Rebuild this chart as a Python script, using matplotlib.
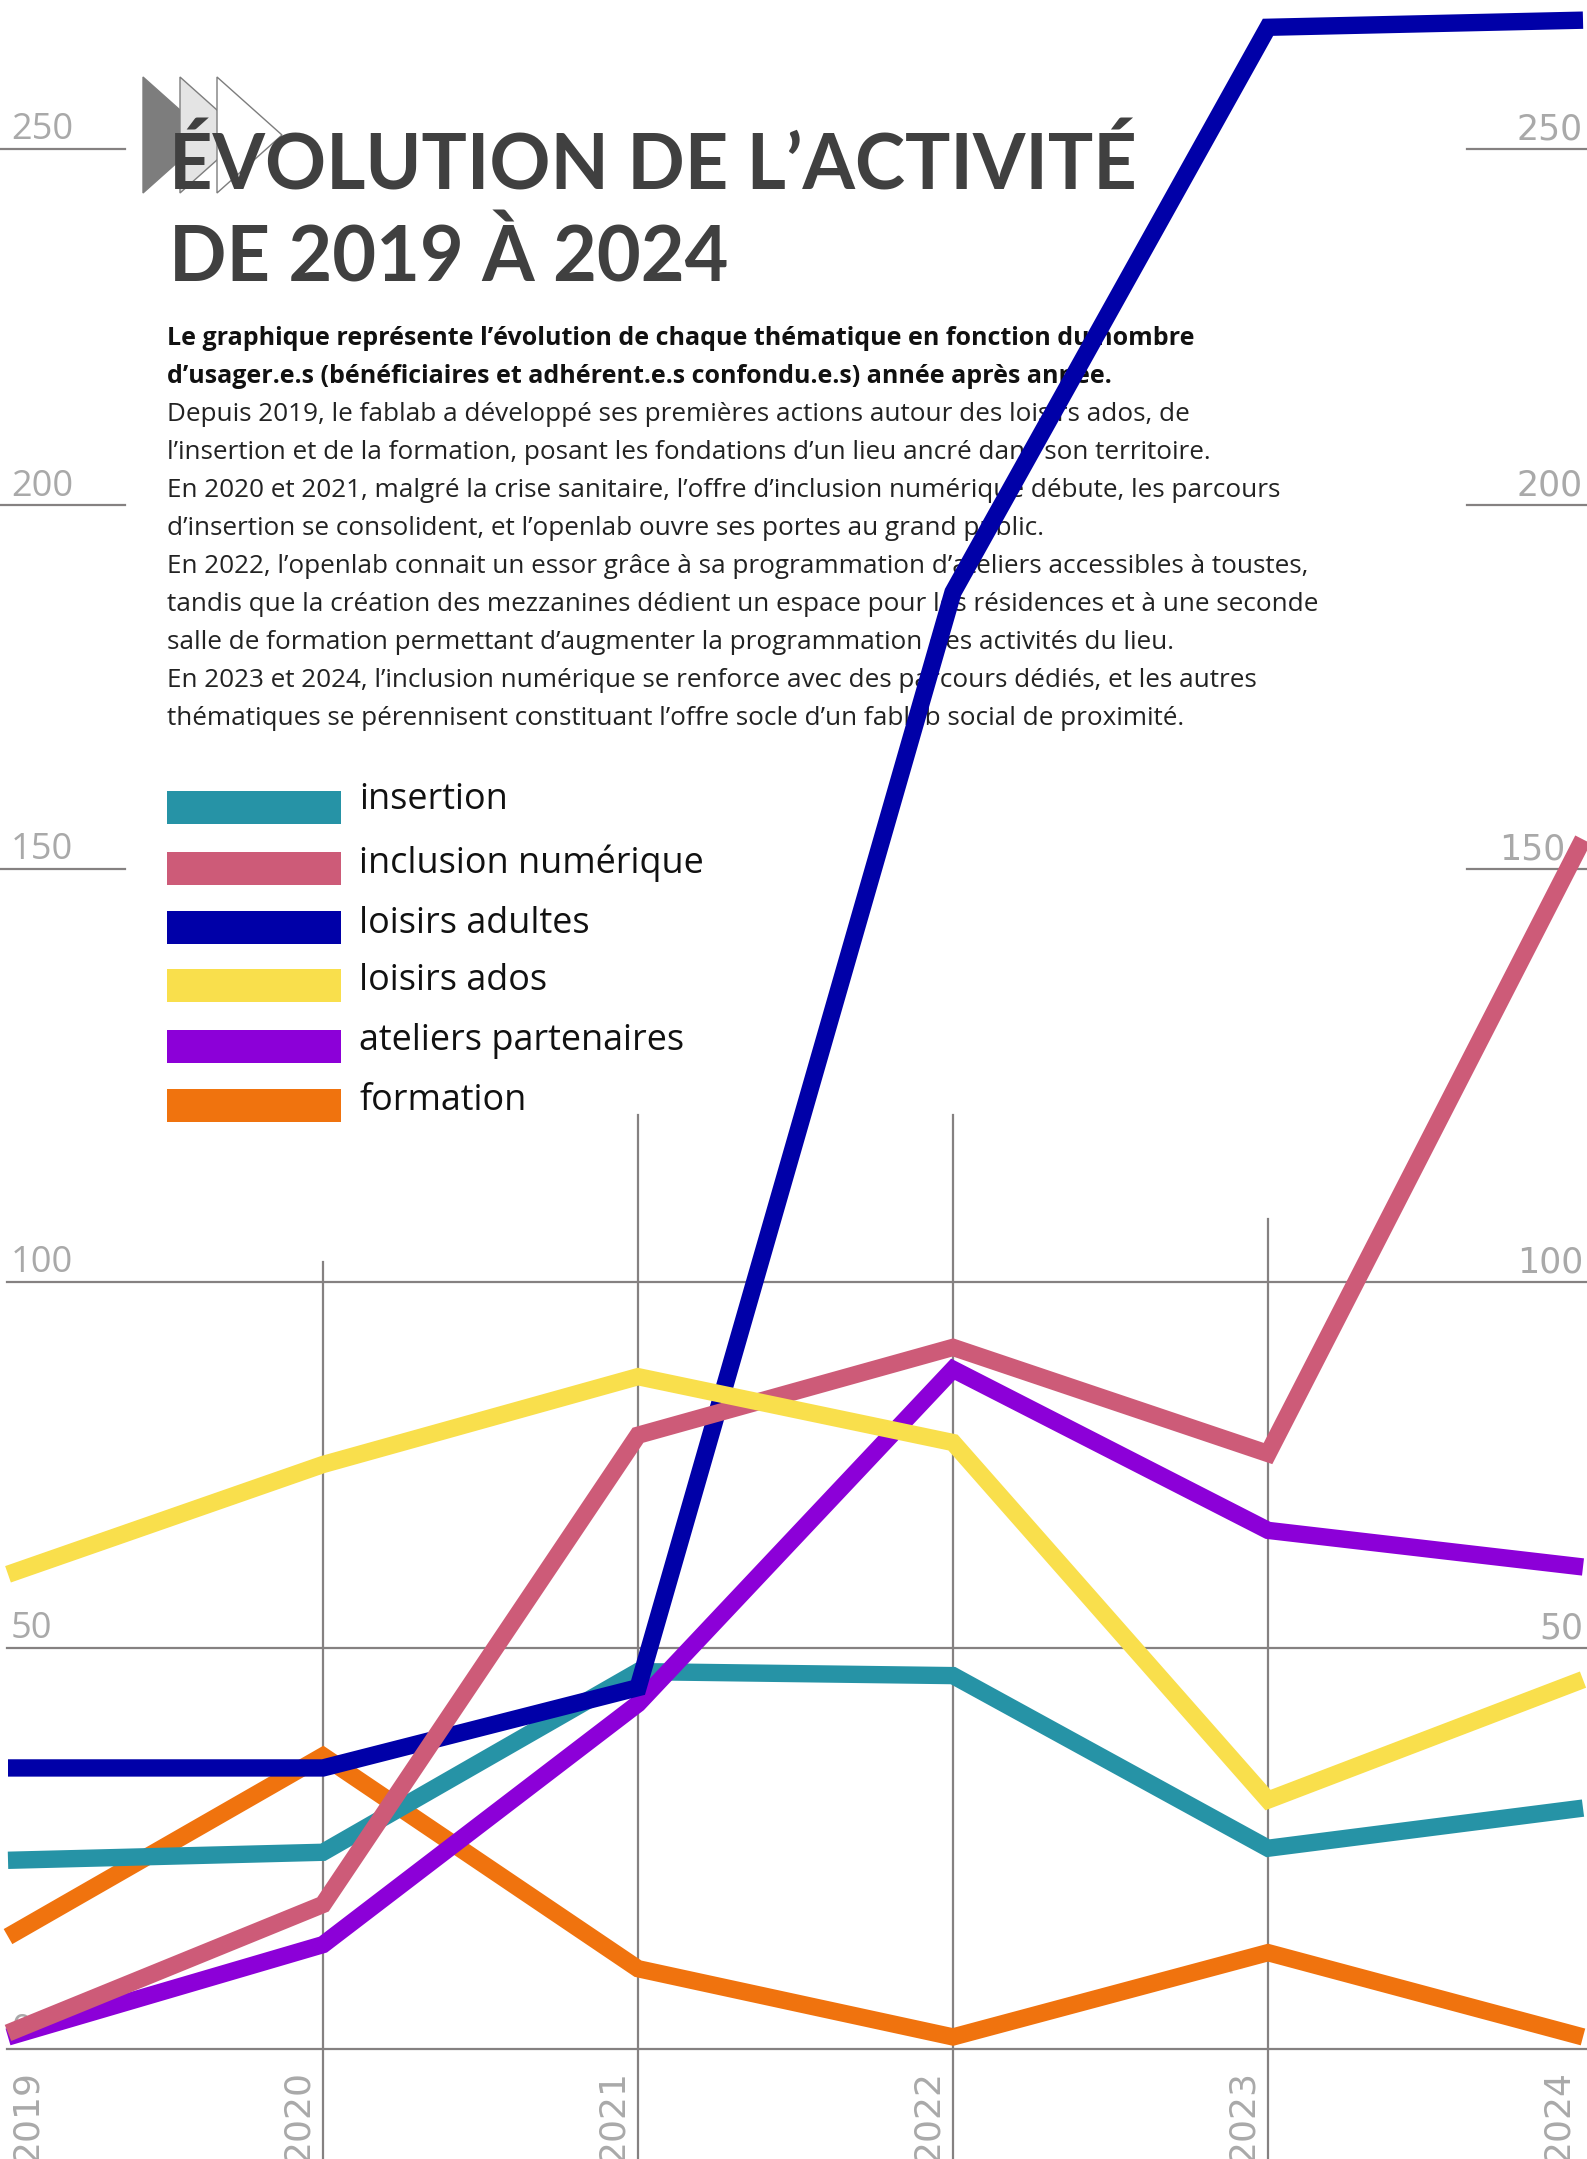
import numpy as np
import matplotlib
matplotlib.use("Agg")
import matplotlib.pyplot as plt
from matplotlib.patches import Polygon, Rectangle

# ---------------- data ----------------
years = [2019, 2020, 2021, 2022, 2023, 2024]
year_labels = ["2019", "2020", "2021", "2022", "2023", "2024"]
series_names = ["insertion", "inclusion numérique", "loisirs adultes",
                "loisirs ados", "ateliers partenaires", "formation"]
insertion = [23.5, 24.5, 47, 46.5, 25, 30]
inclusion_numerique = [2, 18, 79, 91, 76.5, 154]
loisirs_adultes = [35, 35, 45, 188, 267, 268]
loisirs_ados = [60, 75, 87, 78, 31, 46]
ateliers_partenaires = [1.5, 13, 43, 88, 66, 61]
formation = [14, 36.5, 10, 1.5, 12, 1.5]
y_ticks = [0, 50, 100, 150, 200, 250]
y_tick_labels = ["0", "50", "100", "150", "200", "250"]

title_lines = ["ÉVOLUTION DE L’ACTIVITÉ", "DE 2019 À 2024"]
intro_bold = [
    "Le graphique représente l’évolution de chaque thématique en fonction du nombre",
    "d’usager.e.s (bénéficiaires et adhérent.e.s confondu.e.s) année après année.",
]
intro_regular = [
    "Depuis 2019, le fablab a développé ses premières actions autour des loisirs ados, de",
    "l’insertion et de la formation, posant les fondations d’un lieu ancré dans son territoire.",
    "En 2020 et 2021, malgré la crise sanitaire, l’offre d’inclusion numérique débute, les parcours",
    "d’insertion se consolident, et l’openlab ouvre ses portes au grand public.",
    "En 2022, l’openlab connait un essor grâce à sa programmation d’ateliers accessibles à toustes,",
    "tandis que la création des mezzanines dédient un espace pour les résidences et à une seconde",
    "salle de formation permettant d’augmenter la programmation des activités du lieu.",
    "En 2023 et 2024, l’inclusion numérique se renforce avec des parcours dédiés, et les autres",
    "thématiques se pérennisent constituant l’offre socle d’un fablab social de proximité.",
]

series_values = [insertion, inclusion_numerique, loisirs_adultes,
                 loisirs_ados, ateliers_partenaires, formation]
series_colors = ["#2693A6", "#CD5B78", "#0000A8", "#F9DF4C", "#8C00D8", "#F0730E"]
draw_order = [5, 0, 4, 2, 1, 3]  # bottom -> top

# ---------------- figure ----------------
W, H = 1587, 2159
fig = plt.figure(figsize=(W / 100, H / 100), dpi=100)
ax = fig.add_axes([0, 0, 1, 1])
ax.axis("off")
ax.patch.set_alpha(0)

# piecewise-linear value axis (the original chart's grid is not evenly spaced)
scale_vals = np.array([-100, 0, 50, 100, 150, 200, 250, 350], dtype=float)
scale_top_px = np.array([2049 + 100 * 8.03, 2049, 1647.5, 1281.5, 868.5, 505, 148.5,
                         148.5 - 100 * 7.13])
scale_h = H - scale_top_px


def fwd(v):
    return np.interp(v, scale_vals, scale_h)


def inv(h):
    return np.interp(h, scale_h, scale_vals)


ax.set_yscale("function", functions=(fwd, inv))
ax.set_ylim(inv(0.0), inv(float(H)))
px_per_year = 315.0
ax.set_xlim(2019 - 8 / px_per_year, 2024 + (W - 1583) / px_per_year)

grid_c = "#858181"
label_c = "#a9a9a9"

# horizontal grid
for v in y_ticks:
    if v >= 150:
        ax.axhline(v, xmin=0, xmax=125 / W, color=grid_c, lw=1.6, zorder=1)
        ax.axhline(v, xmin=1467 / W, xmax=1, color=grid_c, lw=1.6, zorder=1)
    else:
        ax.axhline(v, xmin=7 / W, xmax=1, color=grid_c, lw=1.6, zorder=1)

# vertical grid (partial heights as in the original)
vgrid_top_px = {2020: 1262, 2021: 1115, 2022: 1115, 2023: 1219}
for yr, top in vgrid_top_px.items():
    ax.axvline(yr, ymin=0, ymax=(H - top) / H, color=grid_c, lw=1.6, zorder=1)

# y labels left & right
right_label_x = {150: 1565}
for v, lab in zip(y_ticks, y_tick_labels):
    ax.annotate(lab, xy=(11 / W, v), xycoords=("axes fraction", "data"),
                xytext=(0, 6.5), textcoords="offset points",
                ha="left", va="baseline", fontsize=26, color=label_c,
                family=["Open Sans", "DejaVu Sans"], zorder=2)
    if v > 0:
        ax.annotate(lab, xy=(right_label_x.get(v, 1583) / W, v),
                    xycoords=("axes fraction", "data"),
                    xytext=(0, 6.5), textcoords="offset points",
                    ha="right", va="baseline", fontsize=25, color=label_c,
                    family=["DejaVu Sans"], zorder=2)

# year labels
for i, (yr, lab) in enumerate(zip(years, year_labels)):
    if i == 0:
        ax.annotate(lab, xy=(yr, 0), xycoords="data", xytext=(1.5, -15),
                    textcoords="offset points", rotation=90, ha="left", va="top",
                    fontsize=26, color=label_c, family=["DejaVu Sans"], zorder=2)
    else:
        ax.annotate(lab, xy=(yr, 0), xycoords="data", xytext=(-6, -15),
                    textcoords="offset points", rotation=90, ha="right", va="top",
                    fontsize=26, color=label_c, family=["DejaVu Sans"], zorder=2)

# series lines
for z, idx in enumerate(draw_order):
    ax.plot(years, series_values[idx], color=series_colors[idx], lw=12.5,
            solid_joinstyle="miter", solid_capstyle="butt", zorder=10 + z,
            clip_on=False)

# chevron logo (behind title)
chev_specs = [(143, "#7d7d7d"), (180, "#e4e4e4"), (217, "white")]
for k, (x0, fc) in enumerate(chev_specs):
    pts = [(x0 / W, 1 - 77 / H), (x0 / W + 65 / W, 1 - 135 / H), (x0 / W, 1 - 193 / H)]
    ax.add_patch(Polygon(pts, closed=True, transform=ax.transAxes, facecolor=fc,
                         edgecolor="#7d7d7d", lw=1.0, zorder=30 + k))

renderer = fig.canvas.get_renderer()


def fit_width(t, target):
    for _ in range(4):
        w = t.get_window_extent(renderer).width
        t.set_fontsize(t.get_fontsize() * target / w)
    return t.get_fontsize()


# title (size chosen so both lines together match the original widths)
title_fam = ["Lato", "DejaVu Sans"]
t1 = ax.text(169 / W, 1 - 189 / H, title_lines[0], transform=ax.transAxes,
             fontsize=60, fontweight="bold", color="#404040", family=title_fam,
             ha="left", va="baseline", zorder=40)
t2 = ax.text(169 / W, 1 - 281 / H, title_lines[1], transform=ax.transAxes,
             fontsize=60, fontweight="bold", color="#404040", family=title_fam,
             ha="left", va="baseline", zorder=40)
for _ in range(3):
    wsum = t1.get_window_extent(renderer).width + t2.get_window_extent(renderer).width
    fs = t1.get_fontsize() * (948 + 581) / wsum
    t1.set_fontsize(fs)
    t2.set_fontsize(fs)

# intro text (under the lines)
body_fam = ["Open Sans", "DejaVu Sans"]
y0 = 345
tb = ax.text(167 / W, 1 - y0 / H, intro_bold[0], transform=ax.transAxes,
             fontsize=16, fontweight="bold", color="#111111", family=body_fam,
             ha="left", va="baseline", zorder=3)
fs_bold = fit_width(tb, 1028)
ax.text(167 / W, 1 - (y0 + 38) / H, intro_bold[1], transform=ax.transAxes,
        fontsize=fs_bold, fontweight="bold", color="#111111", family=body_fam,
        ha="left", va="baseline", zorder=3)
probe = ax.text(0, 0, intro_regular[5], transform=ax.transAxes, fontsize=16,
                family=body_fam)
fs_reg = fit_width(probe, 1154)
probe.remove()
for i, line in enumerate(intro_regular):
    ax.text(167 / W, 1 - (y0 + 38 * (i + 2)) / H, line, transform=ax.transAxes,
            fontsize=fs_reg, color="#222222", family=body_fam,
            ha="left", va="baseline", zorder=3)

# legend
rect_centers = [807, 868, 927, 985, 1046, 1105]
text_base = [809, 873, 933, 990, 1050, 1110]
probe = ax.text(0, 0, series_names[1], transform=ax.transAxes, fontsize=26,
                family=body_fam)
fs_leg = fit_width(probe, 345)
probe.remove()
for name, col, c, b in zip(series_names, series_colors, rect_centers, text_base):
    ax.add_patch(Rectangle((167 / W, 1 - (c + 16.5) / H), 174 / W, 33 / H,
                           transform=ax.transAxes, facecolor=col, edgecolor="none",
                           zorder=5))
    ax.text(359 / W, 1 - b / H, name, transform=ax.transAxes, fontsize=fs_leg,
            color="#111111", family=body_fam, ha="left", va="baseline", zorder=5)

fig.savefig("out.png", dpi=100)
